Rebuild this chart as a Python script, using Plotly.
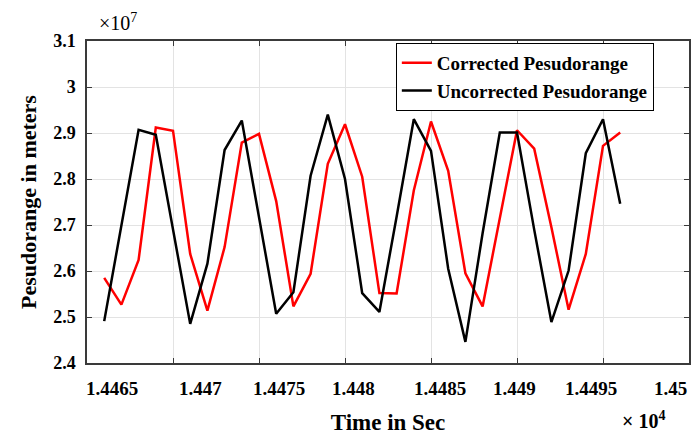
import plotly.graph_objects as go

# Time stamps (s) and pseudorange values (units of 1e7 m)
time_s = [14466, 14467, 14468, 14469, 14470, 14471, 14472, 14473, 14474, 14475,
          14476, 14477, 14478, 14479, 14480, 14481, 14482, 14483, 14484, 14485,
          14486, 14487, 14488, 14489, 14490, 14491, 14492, 14493, 14494, 14495,
          14496]

corrected = [2.585, 2.527, 2.624, 2.912, 2.905, 2.637, 2.514, 2.652, 2.879, 2.898,
             2.752, 2.523, 2.594, 2.833, 2.919, 2.805, 2.552, 2.551, 2.775, 2.925,
             2.818, 2.595, 2.523, 2.717, 2.906, 2.866, 2.695, 2.516, 2.637, 2.872,
             2.901]

uncorrected = [2.491, 2.703, 2.907, 2.896, 2.691, 2.485, 2.616, 2.863, 2.927, 2.719,
               2.507, 2.554, 2.807, 2.940, 2.800, 2.552, 2.511, 2.718, 2.930, 2.861,
               2.605, 2.446, 2.682, 2.901, 2.901, 2.690, 2.489, 2.601, 2.856, 2.930,
               2.746]

x_ticks = [14465, 14470, 14475, 14480, 14485, 14490, 14495, 14500]
x_tick_text = ["1.4465", "1.447", "1.4475", "1.448", "1.4485", "1.449", "1.4495", "1.45"]
y_ticks = [2.4, 2.5, 2.6, 2.7, 2.8, 2.9, 3.0, 3.1]
y_tick_text = ["2.4", "2.5", "2.6", "2.7", "2.8", "2.9", "3", "3.1"]

# horizontal nudges (px) of the x tick labels
x_label_shift = [25, 27, 20, 8, 9, -3, -12, -19]

SERIF = "Liberation Serif, Times New Roman, serif"

fig = go.Figure()
fig.add_trace(go.Scatter(x=time_s, y=corrected, mode="lines",
                         name="Corrected Pesudorange",
                         line=dict(color="#ff0000", width=2.5)))
fig.add_trace(go.Scatter(x=time_s, y=uncorrected, mode="lines",
                         name="Uncorrected Pesudorange",
                         line=dict(color="#000000", width=2.5)))

axis_common = dict(showgrid=True, gridcolor="#e3e3e3", gridwidth=1,
                   showline=True, linecolor="#3a3a3a", linewidth=1.5,
                   mirror="ticks", ticks="inside", ticklen=5,
                   tickcolor="#3a3a3a", zeroline=False)

fig.update_xaxes(range=[14465, 14500], tickvals=x_ticks, showticklabels=False,
                 title=dict(text="Time in Sec",
                            font=dict(family=SERIF, size=23, color="#000", weight="bold"),
                            standoff=54),
                 **axis_common)
fig.update_yaxes(range=[2.4, 3.1], tickvals=y_ticks, ticktext=y_tick_text,
                 tickfont=dict(family=SERIF, size=18, color="#000", weight="bold"),
                 ticklabelstandoff=6,
                 title=dict(text="Pesudorange in meters",
                            font=dict(family=SERIF, size=22, color="#000", weight="bold"),
                            standoff=10),
                 **axis_common)

annotations = []
for v, txt, dx in zip(x_ticks, x_tick_text, x_label_shift):
    annotations.append(dict(x=v, y=0, xref="x", yref="paper", yshift=-25, xshift=dx,
                            text=txt, showarrow=False, xanchor="center", yanchor="middle",
                            font=dict(family=SERIF, size=19, color="#000", weight="bold")))
annotations.append(dict(x=0.051, y=1.059, xref="paper", yref="paper",
                        text="×10<sup>7</sup>", showarrow=False,
                        xanchor="center", yanchor="middle",
                        font=dict(family=SERIF, size=20, color="#000")))
annotations.append(dict(x=0.925, y=-0.177, xref="paper", yref="paper",
                        text="× 10<sup>4</sup>", showarrow=False,
                        xanchor="center", yanchor="middle",
                        font=dict(family=SERIF, size=20, color="#000", weight="bold")))

fig.update_layout(
    width=693, height=435,
    margin=dict(l=87, r=2, t=41, b=72),
    plot_bgcolor="white", paper_bgcolor="white",
    annotations=annotations,
    legend=dict(x=0.513, y=0.994, xanchor="left", yanchor="top",
                bgcolor="white", bordercolor="#000", borderwidth=1,
                font=dict(family=SERIF, size=19, color="#000", weight="bold"),
                tracegroupgap=0, itemwidth=30),
    showlegend=True,
)

fig.write_html("out.html")
